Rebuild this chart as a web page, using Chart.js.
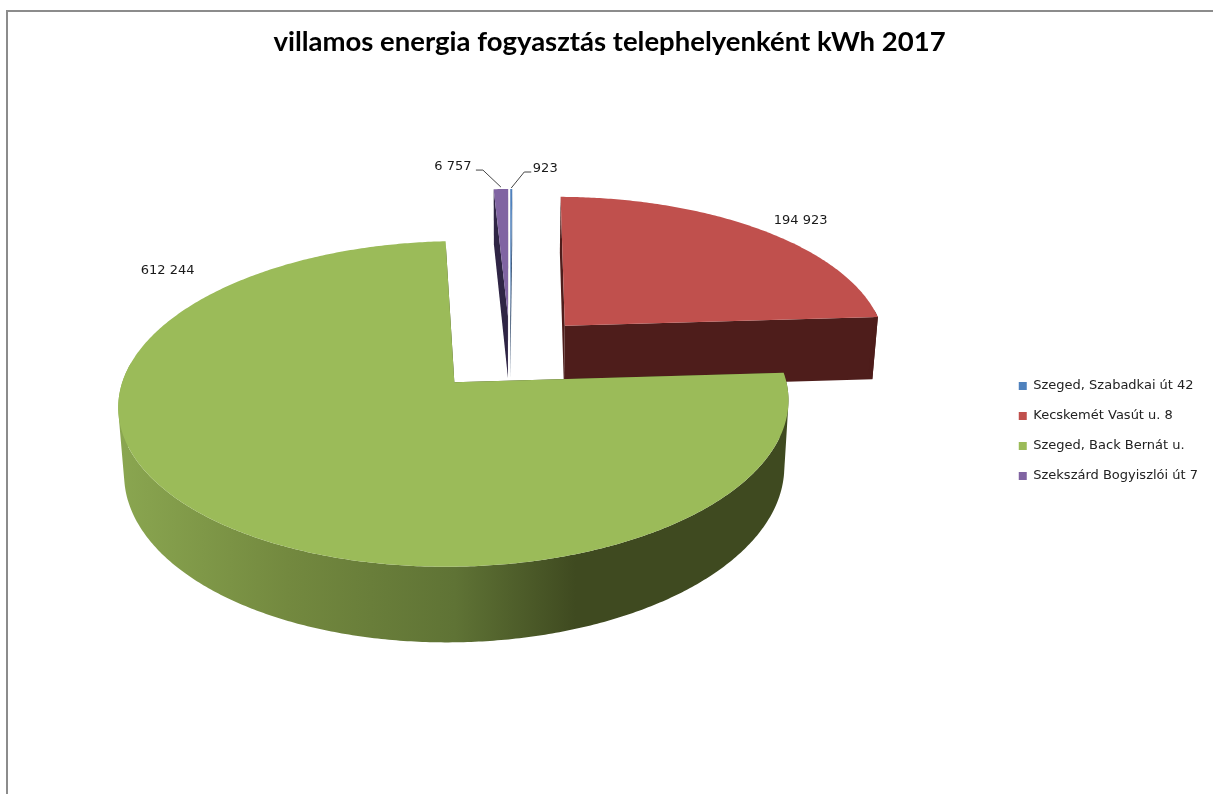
<!DOCTYPE html>
<html>
<head>
<meta charset="utf-8">
<title>villamos energia fogyasztás</title>
<script src="https://cdn.jsdelivr.net/npm/chart.js@4"></script>
<style>
html, body { margin: 0; padding: 0; background: #fff; overflow: hidden; }
#frame { position: absolute; left: 6px; top: 10px; right: -4px; bottom: -4px; border: 2px solid #8c8c8c; }
#pie { position: absolute; left: 0; top: 0; }
</style>
</head>
<body>
<div id="frame"></div>
<canvas id="pie" width="1213" height="794"></canvas>
<script>
const labels = ['Szeged, Szabadkai út 42', 'Kecskemét Vasút u. 8', 'Szeged, Back Bernát u.', 'Szekszárd Bogyiszlói út 7'];
const values = [923, 194923, 612244, 6757];
const valueTexts = ['923', '194 923', '612 244', '6 757'];
const topColors = ['#4F81BD', '#C0504D', '#9BBB59', '#8064A2'];
const wallColors = ['#2B4568', '#4E1D1B', '#3F4A20', '#2F2545'];

// camera for the tilted pie
const cam = { cx: 510, cy: 353, planR: 324, squash: 0.47, q: 0.0004, depth: 64, shrink: 0.015 };
// label offsets from the slice's outer rim
const labelNudge = [[34, -20], [41, -9], [-35, -244], [-48, -22]];
const leaders = { 0: [[0, -1], [13, -17], [20, -17]], 3: [[0, -2], [-18, -19], [-25, -19]] };

function project(X, Y, z) {
  const w = 1 - cam.q * Y;
  return [cam.cx + X * (1 - cam.shrink * z) / w, cam.cy + (cam.squash * Y + cam.depth * z) / w];
}

function sliceGeom(el) {
  const p = el.getProps(['startAngle', 'endAngle', 'outerRadius']);
  const k = cam.planR / p.outerRadius;
  const e = el.options.offset * k;
  const mid = (p.startAngle + p.endAngle) / 2;
  return { a0: p.startAngle, a1: p.endAngle, mid, ox: e * Math.cos(mid), oy: e * Math.sin(mid), r: cam.planR };
}

function rimAngles(g) {
  const out = [];
  const n = Math.max(2, Math.ceil((g.a1 - g.a0) / 0.01));
  for (let i = 0; i <= n; i++) out.push(g.a0 + (g.a1 - g.a0) * i / n);
  return out;
}

function rimPoint(g, a, z) {
  return project(g.ox + g.r * Math.cos(a), g.oy + g.r * Math.sin(a), z);
}

function fillPoly(ctx, pts, fill) {
  ctx.beginPath();
  pts.forEach((p, i) => i ? ctx.lineTo(p[0], p[1]) : ctx.moveTo(p[0], p[1]));
  ctx.closePath();
  ctx.fillStyle = fill;
  ctx.fill();
}

// all strips wound the same way in one path, so no seams and no holes at the silhouette
function fillOuterWall(ctx, g, fill) {
  const angles = rimAngles(g);
  ctx.beginPath();
  for (let s = 0; s < angles.length - 1; s++) {
    if (Math.sin(angles[s]) < -0.12) continue;
    let q = [rimPoint(g, angles[s], 0), rimPoint(g, angles[s + 1], 0), rimPoint(g, angles[s + 1], 1), rimPoint(g, angles[s], 1)];
    let area = 0;
    q.forEach((p, i) => {
      const n = q[(i + 1) % 4];
      area += p[0] * n[1] - n[0] * p[1];
    });
    if (area < 0) q = q.reverse();
    q.forEach((p, i) => i ? ctx.lineTo(p[0], p[1]) : ctx.moveTo(p[0], p[1]));
    ctx.closePath();
  }
  ctx.fillStyle = fill;
  ctx.fill();
}

function greenWall(ctx) {
  const g = ctx.createLinearGradient(120, 0, 790, 0);
  g.addColorStop(0, '#8AA650');
  g.addColorStop(0.25, '#73893F');
  g.addColorStop(0.5, '#5F7335');
  g.addColorStop(0.68, '#3F4A20');
  g.addColorStop(1, '#3F4A20');
  return g;
}

const pie3d = {
  id: 'pie3d',
  beforeDatasetsDraw(chart) {
    const ctx = chart.ctx;
    const arcs = chart.getDatasetMeta(0).data;
    ctx.save();
    // back to front
    [3, 0, 1, 2].forEach(i => {
      const g = sliceGeom(arcs[i]);
      const apexTop = project(g.ox, g.oy, 0);
      const apexLow = project(g.ox, g.oy, 1);
      const top = rimAngles(g).map(a => rimPoint(g, a, 0));
      fillPoly(ctx, [apexTop, rimPoint(g, g.a0, 0), rimPoint(g, g.a0, 1), apexLow], wallColors[i]);
      fillPoly(ctx, [apexTop, rimPoint(g, g.a1, 0), rimPoint(g, g.a1, 1), apexLow], wallColors[i]);
      fillOuterWall(ctx, g, i === 2 ? greenWall(ctx) : wallColors[i]);
      fillPoly(ctx, [apexTop].concat(top), topColors[i]);
    });
    // value labels
    ctx.font = '13px "DejaVu Sans"';
    ctx.textAlign = 'center';
    ctx.textBaseline = 'middle';
    arcs.forEach((el, i) => {
      const g = sliceGeom(el);
      const rim = rimPoint(g, g.mid, 0);
      ctx.fillStyle = '#1a1a1a';
      ctx.fillText(valueTexts[i], rim[0] + labelNudge[i][0], rim[1] + labelNudge[i][1]);
      if (leaders[i]) {
        ctx.beginPath();
        leaders[i].forEach((d, j) => j ? ctx.lineTo(rim[0] + d[0], rim[1] + d[1]) : ctx.moveTo(rim[0] + d[0], rim[1] + d[1]));
        ctx.strokeStyle = '#444';
        ctx.lineWidth = 1;
        ctx.stroke();
      }
    });
    ctx.restore();
    return false;
  }
};

new Chart(document.getElementById('pie').getContext('2d'), {
  type: 'pie',
  data: {
    labels: labels,
    datasets: [{
      data: values,
      backgroundColor: topColors,
      borderWidth: 0,
      offset: 41,
      radius: 163
    }]
  },
  options: {
    responsive: false,
    animation: false,
    layout: { padding: { left: 11, right: 5, top: 14 } },
    plugins: {
      title: {
        display: true,
        text: 'villamos energia fogyasztás telephelyenként kWh 2017',
        color: '#000',
        font: { family: 'Lato', size: 27.5, weight: 'bold' },
        padding: { top: 12, bottom: 9 }
      },
      legend: {
        position: 'right',
        fullSize: false,
        labels: {
          boxWidth: 8,
          boxHeight: 8,
          padding: 17,
          color: '#222',
          font: { family: 'DejaVu Sans', size: 13 }
        }
      },
      tooltip: { enabled: false }
    }
  },
  plugins: [pie3d]
});
</script>
</body>
</html>
